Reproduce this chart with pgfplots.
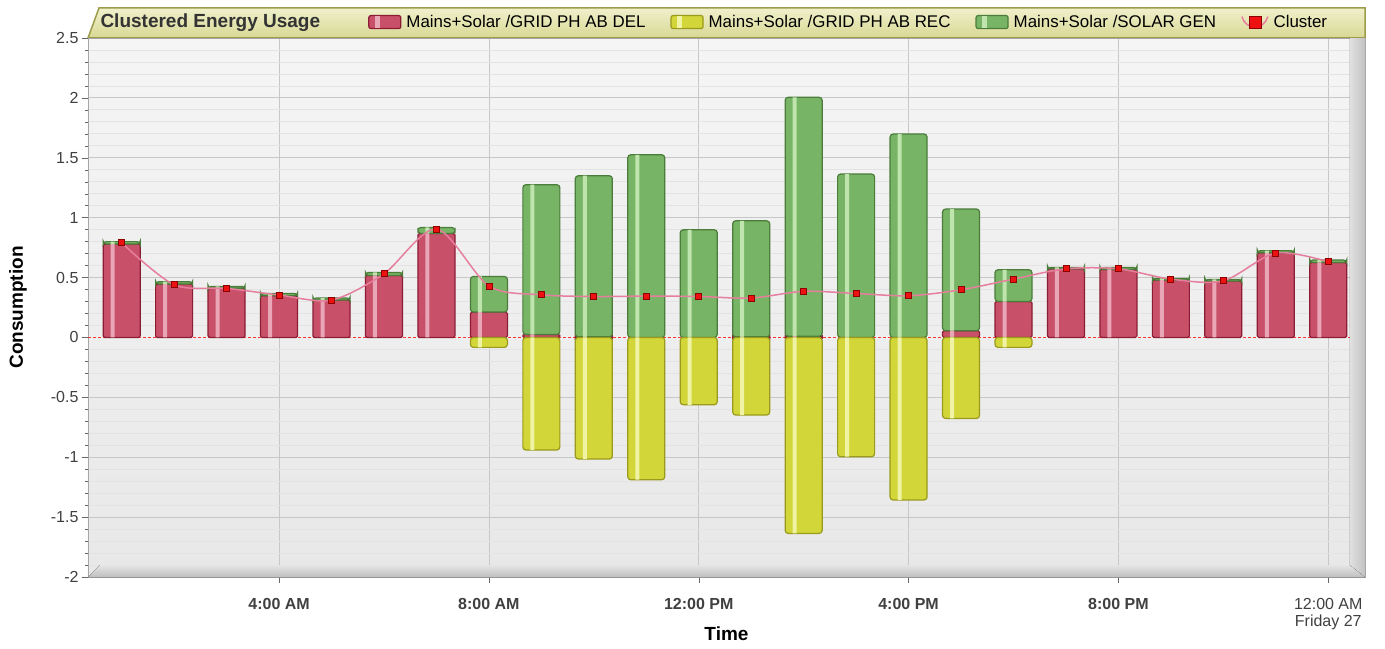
\documentclass[border=0pt]{standalone}
\usepackage{pgfplots}
\usepackage{pgfplotstable}
\pgfplotsset{compat=1.18}
\usepackage{fontspec}
\setmainfont{Liberation Sans}

\definecolor{rFill}{HTML}{C95069}
\definecolor{rHi}{HTML}{E8A6B6}
\definecolor{rLine}{HTML}{8A1C34}
\definecolor{gFill}{HTML}{78B465}
\definecolor{gHi}{HTML}{C0E4AE}
\definecolor{gLine}{HTML}{4A7C3A}
\definecolor{yFill}{HTML}{D2D638}
\definecolor{yHi}{HTML}{F0F2A4}
\definecolor{yLine}{HTML}{9A9A1C}
\definecolor{clLine}{HTML}{E67F9E}
\definecolor{clMark}{HTML}{EE1111}
\definecolor{clDark}{HTML}{8C0000}
\definecolor{zeroRed}{HTML}{FF3333}
\definecolor{bandTop}{HTML}{F0F0CC}
\definecolor{bandBot}{HTML}{D8D894}
\definecolor{bandLine}{HTML}{9C9C4C}
\definecolor{tickgray}{HTML}{404040}

% hour, GRID PH AB DEL, SOLAR GEN, Cluster
\pgfplotstableread{
h  del    gen    cl
1  0.780  0.020  0.790
2  0.446  0.019  0.440
3  0.410  0.016  0.410
4  0.348  0.019  0.354
5  0.312  0.017  0.312
6  0.518  0.025  0.532
7  0.868  0.050  0.905
8  0.212  0.297  0.430
9  0.025  1.250  0.356
10 0.005  1.345  0.342
11 0.000  1.525  0.345
12 0.000  0.899  0.342
13 0.005  0.969  0.329
14 0.010  1.995  0.385
15 0.000  1.364  0.367
16 0.000  1.698  0.348
17 0.056  1.016  0.398
18 0.300  0.265  0.487
19 0.573  0.011  0.573
20 0.568  0.016  0.573
21 0.479  0.014  0.487
22 0.470  0.014  0.473
23 0.707  0.017  0.705
24 0.626  0.020  0.632
}\energy

% GRID PH AB REC (exported energy, negative)
\pgfplotstableread{
h  rec
8  -0.083
9  -0.940
10 -1.015
11 -1.188
12 -0.562
13 -0.648
14 -1.636
15 -0.996
16 -1.357
17 -0.676
18 -0.083
}\recdata

\begin{document}
\begin{tikzpicture}
\useasboundingbox (-88bp,-72bp) rectangle (1297bp,577bp);
% title band above the plot area
\draw[bandLine, line width=1.5bp, top color=bandTop, bottom color=bandBot]
  (0bp,539bp) -- (11bp,569bp) -- (1277bp,569bp) -- (1277bp,539bp) -- cycle;
\node[anchor=west, text=black!80, font=\bfseries\fontsize{19bp}{20bp}\selectfont]
  at (9bp,554bp) {Clustered Energy Usage};
\begin{axis}[
    scale only axis, width=1277bp, height=539bp,
    ybar stacked, bar width=37bp,
    reverse stacked plots=false, stack negative=on previous,
    xmin=0.358, xmax=24.7, ymin=-2, ymax=2.5,
    clip=false,
    axis line style={draw=gray!70},
    tick pos=left, tick align=outside,
    major tick length=6bp, minor tick length=3bp,
    every tick/.style={gray!80!black},
    xtick={4,8,12,16,20,24},
    xticklabels={\textbf{4:00 AM},\textbf{8:00 AM},\textbf{12:00 PM},\textbf{4:00 PM},\textbf{8:00 PM},{12:00 AM\\Friday 27}},
    xticklabel style={align=center, text=tickgray, font=\fontsize{16bp}{17bp}\selectfont, yshift=-12bp},
    ytick={-2,-1.5,-1,-0.5,0.5,1,1.5,2,2.5},
    minor ytick={-1.9,-1.8,-1.7,-1.6,-1.4,-1.3,-1.2,-1.1,-0.9,-0.8,-0.7,-0.6,-0.4,-0.3,-0.2,-0.1,
                 0.1,0.2,0.3,0.4,0.6,0.7,0.8,0.9,1.1,1.2,1.3,1.4,1.6,1.7,1.8,1.9,2.1,2.2,2.3,2.4},
    yticklabel style={text=tickgray, font=\fontsize{16bp}{18bp}\selectfont},
    /pgf/number format/assume math mode=true,
    yticklabel={\pgfmathprintnumber{\tick}},
    extra y ticks={0}, extra y tick labels={0},
    extra y tick style={grid=major, major grid style={draw=zeroRed, dash pattern=on 3bp off 2bp, line width=1.3bp},
      yticklabel style={text=tickgray, font=\fontsize{16bp}{18bp}\selectfont}},
    xmajorgrids, ymajorgrids, yminorgrids,
    major grid style={draw=black!22, line width=0.8bp},
    minor grid style={draw=black!11, line width=0.8bp},
    axis background/.style={shade, top color=black!4, bottom color=black!9},
    xlabel={Time}, ylabel={Consumption},
    every axis x label/.style={at={(rel axis cs:0.5,0)}, anchor=center, yshift=-57bp,
      font=\bfseries\fontsize{19bp}{20bp}\selectfont},
    every axis y label/.style={at={(rel axis cs:-0.0548,0.5)}, anchor=center, rotate=90,
      font=\bfseries\fontsize{19bp}{20bp}\selectfont},
    legend columns=-1,
    legend style={at={(0.2193,1.0278)}, anchor=west, draw=none, fill=none,
      inner xsep=0pt, inner ysep=0pt,
      font=\fontsize{16.9bp}{18bp}\selectfont,
      nodes={inner xsep=5bp, inner ysep=1bp},
      /tikz/every even column/.append style={column sep=20bp}},
]
% floor and right wall
\fill[top color=black!10, bottom color=black!25] (rel axis cs:0,0) -- ([xshift=12bp,yshift=12bp]rel axis cs:0,0) -- ([xshift=-15bp,yshift=12bp]rel axis cs:1,0) -- (rel axis cs:1,0) -- cycle;
\fill[left color=black!12, right color=black!24] ([xshift=-15bp,yshift=12bp]rel axis cs:1,0) -- ([xshift=-15bp]rel axis cs:1,1) -- (rel axis cs:1,1) -- (rel axis cs:1,0) -- cycle;

\addlegendimage{legend image code/.code={\draw[rLine, line width=1.2bp, rounded corners=2bp, fill=rFill] (0bp,-6bp) rectangle (32bp,7bp);
   \fill[rHi] (6bp,-5bp) rectangle (10bp,6bp);}}
\addlegendentry{Mains+Solar /GRID PH AB DEL}
\addlegendimage{legend image code/.code={\draw[yLine, line width=1.2bp, rounded corners=2bp, fill=yFill] (0bp,-6bp) rectangle (32bp,7bp);
   \fill[yHi] (6bp,-5bp) rectangle (10bp,6bp);}}
\addlegendentry{Mains+Solar /GRID PH AB REC}
\addlegendimage{legend image code/.code={\draw[gLine, line width=1.2bp, rounded corners=2bp, fill=gFill] (0bp,-6bp) rectangle (32bp,7bp);
   \fill[gHi] (6bp,-5bp) rectangle (10bp,6bp);}}
\addlegendentry{Mains+Solar /SOLAR GEN}
\addlegendimage{legend image code/.code={\draw[clLine, line width=1.5bp] (2bp,6bp) .. controls (6bp,-8bp) and (24bp,-8bp) .. (28bp,6bp);
   \fill[clMark, draw=clDark] (9bp,-6bp) rectangle (21bp,6bp);}}
\addlegendentry{Cluster}

% stacked: DEL, then SOLAR GEN on top
\addplot[forget plot, draw=rLine, line width=1.2bp, rounded corners=1.5bp, fill=rFill]
  table[x=h, y=del] {\energy};
\addplot[forget plot, draw=gLine, line width=1.2bp, rounded corners=3bp, fill=gFill]
  table[x=h, y=gen] {\energy};
% highlight stripe of the green part (runs back down from the top to the red part)
\addplot[forget plot, draw=none, fill=gHi, bar width=4bp, bar shift=-9bp]
  table[x=h, y expr=-\thisrow{gen}] {\energy};
% highlight stripe of the red part
\addplot[forget plot, stack plots=false, ybar, draw=none, fill=rHi, bar width=4bp, bar shift=-9bp]
  table[x=h, y=del] {\energy};
% REC, below zero
\addplot[forget plot, stack plots=false, ybar, bar shift=0pt, draw=yLine, line width=1.2bp, rounded corners=3bp, fill=yFill]
  table[x=h, y=rec] {\recdata};
\addplot[forget plot, stack plots=false, ybar, draw=none, fill=yHi, bar width=4bp, bar shift=-9bp]
  table[x=h, y=rec] {\recdata};
% Cluster
\addplot[forget plot, stack plots=false, smooth, draw=clLine, line width=1.5bp,
  mark=square*, mark size=3bp, mark options={fill=clMark, draw=clDark, line width=0.8bp}]
  table[x=h, y=cl] {\energy};
\end{axis}
\end{tikzpicture}
\end{document}
